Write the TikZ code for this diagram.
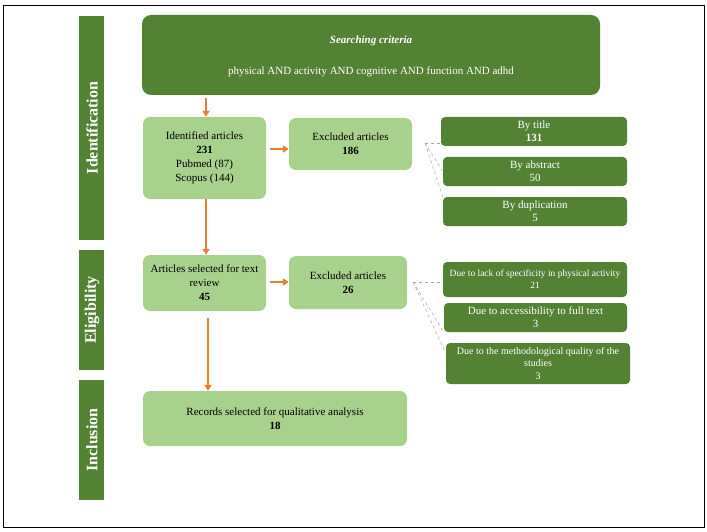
\documentclass[tikz,border=0pt]{standalone}
\usepackage{fontspec}
\setmainfont{Liberation Serif}
\begin{document}
\begin{tikzpicture}[x=1pt,y=-1pt,
  dg/.style={fill=dkg,draw=none,rounded corners=4pt,text=white,align=center,inner sep=1pt,font=\fontsize{11}{13}\selectfont},
  lg/.style={fill=lgg,draw=none,rounded corners=7pt,align=center,inner sep=1pt,font=\fontsize{11}{14}\selectfont},
  bar/.style={fill=dkg,draw=none},
  bart/.style={text=white,font=\fontsize{16}{18}\selectfont\bfseries,rotate=90},
  arr/.style={draw=org,line width=1.5pt,-{Triangle[length=6pt,width=7pt]}},
  dsh/.style={draw=gray!70,dashed,line width=0.5pt}]
\definecolor{dkg}{HTML}{548235}
\definecolor{lgg}{HTML}{A9D18E}
\definecolor{org}{HTML}{ED7D31}
\usetikzlibrary{arrows.meta}
\useasboundingbox (0,0) rectangle (707,532);
\draw[line width=0.8pt] (3,5) rectangle (704,527);
% side bars
\fill[bar] (79,16) rectangle (104,240);
\fill[bar] (79,250) rectangle (104,370);
\fill[bar] (79,380) rectangle (104,500);
\node[bart] (b1) at (92,128) {Identification};
\node[bart] (b2) at (92,310) {Eligibility};
\node[bart] (b3) at (92,440) {Inclusion};
% top
\node[dg,rounded corners=9pt,minimum width=458pt,minimum height=80pt] (top) at (371,55) {};
\node[text=white,font=\fontsize{11}{13}\selectfont\bfseries\itshape] (t1) at (371,41) {Searching criteria};
\node[text=white,font=\fontsize{11}{13}\selectfont] (t2) at (371,72) {physical AND activity AND cognitive AND function AND adhd};
% main column
\node[lg,minimum width=123pt,minimum height=82pt] (id) at (204.5,158) {Identified articles\\\textbf{231}\\Pubmed (87)\\Scopus (144)};
\node[lg,minimum width=123pt,minimum height=52pt] (ex1) at (350.5,144) {Excluded articles\\\textbf{186}};
\node[lg,minimum width=123pt,minimum height=56pt] (sel) at (204.5,283) {Articles selected for text\\review\\\textbf{45}};
\node[lg,minimum width=118pt,minimum height=53pt] (ex2) at (348,282.5) {Excluded articles\\\textbf{26}};
\node[lg,minimum width=264pt,minimum height=55pt] (rec) at (275,418.5) {Records selected for qualitative analysis\\\textbf{18}};
% right column
\node[dg,minimum width=186pt,minimum height=29pt] (r1) at (534,131.5) {By title\\\textbf{131}};
\node[dg,minimum width=184pt,minimum height=29pt] (r2) at (535,171.5) {By abstract\\50};
\node[dg,minimum width=184pt,minimum height=29pt] (r3) at (535,211.5) {By duplication\\5};
\node[dg,minimum width=184pt,minimum height=35pt,font=\fontsize{9.5}{12}\selectfont] (r4) at (535,279.5) {Due to lack of specificity in physical activity\\21};
\node[dg,minimum width=183pt,minimum height=29pt] (r5) at (535.5,317.5) {Due to accessibility to full text\\3};
\node[dg,minimum width=184pt,minimum height=41pt,font=\fontsize{10}{12.5}\selectfont] (r6) at (538,363.5) {Due to the methodological quality of the\\studies\\3};
% arrows
\draw[arr] (206,98) -- (id.north -| 206,0);
\draw[arr] (id.east) ++(4,-9) coordinate (a1) -- (a1 -| ex1.west);
\draw[arr] (id.south -| 206,0) -- (sel.north -| 206,0);
\draw[arr] (sel.east) ++(4,-1) coordinate (a2) -- (a2 -| ex2.west);
\draw[arr] (208,318) -- (rec.north -| 208,0);
% dashed
\coordinate (d1) at (425,143);
\draw[dsh] (d1) -- (r1.west |- d1);
\draw[dsh] (d1) -- (r2.west);
\draw[dsh] (d1) -- (r3.north west);
\coordinate (d2) at (413,282);
\draw[dsh] (d2) -- (r4.west |- d2);
\draw[dsh] (d2) -- (r5.south west);
\draw[dsh] (d2) -- ([yshift=10pt]r6.west);
\end{tikzpicture}
\end{document}
